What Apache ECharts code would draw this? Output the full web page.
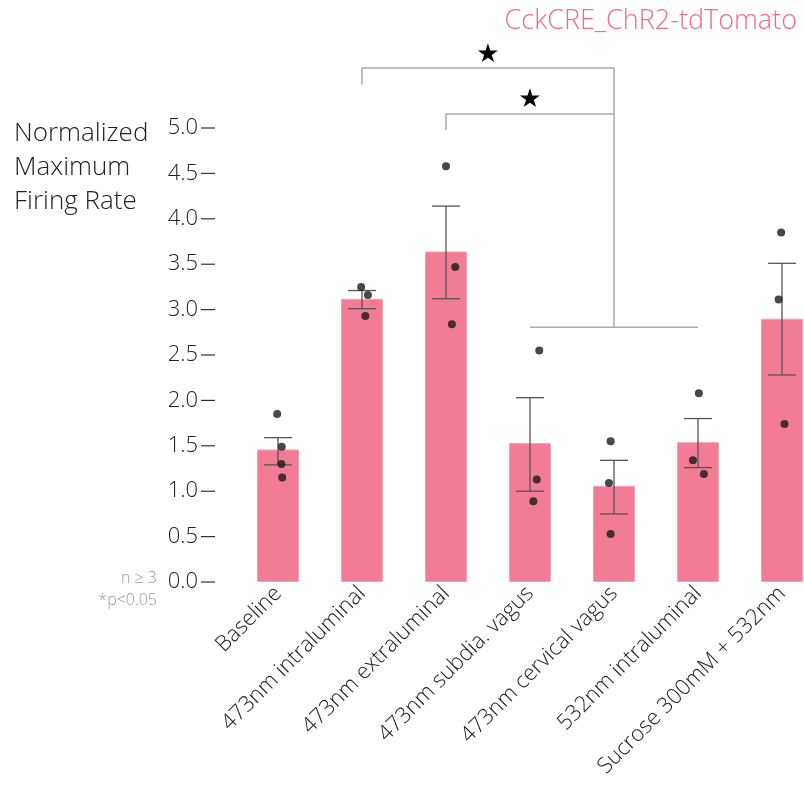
<!DOCTYPE html>
<html><head><meta charset="utf-8">
<script src="https://cdn.jsdelivr.net/npm/echarts@6/dist/echarts.min.js"></script>
<style>html,body{margin:0;padding:0;background:#fff}#c{width:804px;height:787px}</style>
</head><body><div id="c"></div>
<script>
var categories = ['Baseline','473nm intraluminal','473nm extraluminal','473nm subdia. vagus','473nm cervical vagus','532nm intraluminal','Sucrose 300mM + 532nm'];
var means = [1.46, 3.12, 3.64, 1.53, 1.06, 1.54, 2.90];
var errUpper = [1.59, 3.21, 4.14, 2.03, 1.34, 1.80, 3.51];
var errLower = [1.29, 3.01, 3.12, 1.00, 0.75, 1.26, 2.28];
var dotGroup  = [0,0,0,0, 1,1,1, 2,2,2, 3,3,3, 4,4,4, 5,5,5, 6,6,6];
var dotJitter = [-0.01,0.045,0.04,0.05, -0.01,0.07,0.04, 0,0.11,0.07, 0.11,0.08,0.04, -0.04,-0.06,-0.04, 0.01,-0.06,0.07, -0.01,-0.04,0.03];
var dotValue  = [1.85,1.49,1.30,1.15, 3.25,3.16,2.93, 4.58,3.47,2.84, 2.55,1.13,0.89, 1.55,1.09,0.53, 2.08,1.34,1.19, 3.85,3.11,1.74];
var yTicks = [0,0.5,1,1.5,2,2.5,3,3.5,4,4.5,5];
// significance brackets: [x, y] in (category index, value)
var bracket1 = [[1,5.48],[1,5.66],[4,5.66],[4,2.805]];
var bracket2 = [[2,4.978],[2,5.154],[4,5.154]];
var bracketBase = [[3,2.805],[5,2.805]];
var stars = [[2.5,5.80],[3.0,5.31]];

var font = 'Open Sans';
var fw = 300;
var chart = echarts.init(document.getElementById('c'));
var dots = dotGroup.map(function(g,i){ return [g + dotJitter[i], dotValue[i]]; });
var errData = means.map(function(m,i){ return [i, errLower[i], errUpper[i]]; });
function bracketSeries(d){
  return {type:'line', xAxisIndex:1, data:d, clip:false, symbol:'none', silent:true,
    lineStyle:{color:'#aaaaaa', width:1.5}, z:1};
}
chart.setOption({
  animation:false,
  textStyle:{fontFamily:font},
  title:[
    {text:'CckCRE_ChR2-tdTomato', right:2, top:3, textStyle:{fontFamily:font, fontWeight:fw, fontSize:27, color:'#f06c8c'}},
    {text:'Normalized\nMaximum\nFiring Rate', left:9, top:112, textStyle:{fontFamily:font, fontWeight:fw, fontSize:26, lineHeight:34, color:'#222'}}
  ],
  graphic:[
    {type:'text', x:157, y:578, style:{text:'n ≥ 3', fontSize:16, fontWeight:fw, fontFamily:font, fill:'#999', align:'right', verticalAlign:'middle'}},
    {type:'text', x:157, y:600, style:{text:'*p<0.05', fontSize:16, fontWeight:fw, fontFamily:font, fill:'#999', align:'right', verticalAlign:'middle'}}
  ],
  grid:{left:236, right:-20, top:128, bottom:205, outerBoundsMode:'none', containLabel:false},
  xAxis:[
    {type:'category', data:categories, axisLine:{show:false}, axisTick:{show:false},
     axisLabel:{rotate:45, margin:8, fontSize:22, fontWeight:fw, color:'#222', fontFamily:font, interval:0}},
    {type:'value', min:-0.5, max:6.5, show:false}
  ],
  yAxis:{type:'value', min:0, max:5, interval:0.5, splitLine:{show:false},
    axisLine:{show:false}, axisTick:{show:false},
    axisLabel:{margin:21, color:'#222', fontFamily:font, fontWeight:fw, fontSize:22,
      formatter:function(v){return '{v|' + v.toFixed(1) + '}{t|}';},
      rich:{v:{fontSize:22, fontWeight:fw, fontFamily:font, color:'#222', padding:[0,3,0,0]},
            t:{width:14, height:1.2, backgroundColor:'#333', verticalAlign:'middle'}}}},
  series:[
    {type:'bar', data:means, barWidth:42, itemStyle:{color:'#f27b96', borderColor:'#f7a3b6', borderWidth:1}, z:2},
    {type:'custom', xAxisIndex:0, data:errData, z:3, renderItem:function(params, api){
      var x = api.value(0), lo = api.coord([x, api.value(1)]), hi = api.coord([x, api.value(2)]);
      var hw = 14, st = {stroke:'#555', lineWidth:1.3};
      return {type:'group', children:[
        {type:'line', shape:{x1:lo[0], y1:lo[1], x2:hi[0], y2:hi[1]}, style:st},
        {type:'line', shape:{x1:lo[0]-hw, y1:lo[1], x2:lo[0]+hw, y2:lo[1]}, style:st},
        {type:'line', shape:{x1:hi[0]-hw, y1:hi[1], x2:hi[0]+hw, y2:hi[1]}, style:st}
      ]};
    }},
    {type:'scatter', xAxisIndex:1, data:dots, symbolSize:8, itemStyle:{color:'#1a1a1a'}, z:4},
    bracketSeries(bracket1), bracketSeries(bracket2), bracketSeries(bracketBase),
    {type:'custom', xAxisIndex:1, data:stars, clip:false, z:5, renderItem:function(params, api){
      var p = api.coord([api.value(0), api.value(1)]);
      return {type:'text', x:p[0], y:p[1], style:{text:'★', fontSize:26, fill:'#000', align:'center', verticalAlign:'middle', fontFamily:'DejaVu Sans'}};
    }}
  ]
});
</script></body></html>
